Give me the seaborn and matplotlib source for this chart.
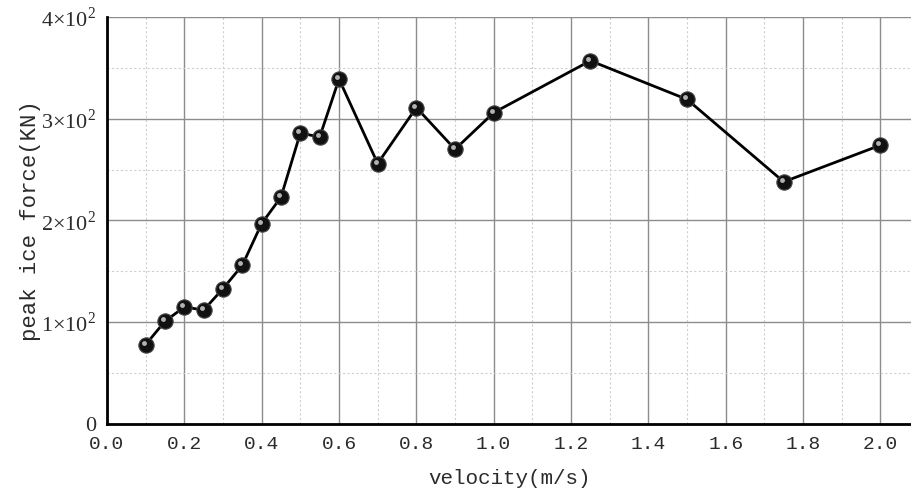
import numpy as np
import matplotlib
matplotlib.use('Agg')
import matplotlib.pyplot as plt
import matplotlib.transforms as mtrans
from matplotlib.ticker import MultipleLocator, FuncFormatter
import seaborn as sns

velocity = [0.1, 0.15, 0.2, 0.25, 0.3, 0.35, 0.4, 0.45, 0.5, 0.55, 0.6,
            0.7, 0.8, 0.9, 1.0, 1.25, 1.5, 1.75, 2.0]
peak_force = [78, 101, 115, 112, 133, 156, 197, 223, 286, 282, 339,
              256, 311, 270, 306, 357, 319, 238, 274]

sns.set_style('white')
plt.rcParams['font.family'] = ['Liberation Serif', 'DejaVu Serif']
plt.rcParams['mathtext.fontset'] = 'custom'
plt.rcParams['mathtext.rm'] = 'Liberation Serif'
TXT = '#2b2b2b'
MONO = ['Liberation Mono', 'DejaVu Sans Mono']

fig = plt.figure(figsize=(9.12, 4.9), dpi=100)
ax = fig.add_axes([0.1173, 0.1347, 0.882, 0.8306])

ax.set_xlim(0, 2.08)
ax.set_ylim(0, 400)
ax.xaxis.set_major_locator(MultipleLocator(0.2))
ax.xaxis.set_minor_locator(MultipleLocator(0.1))
ax.yaxis.set_major_locator(MultipleLocator(100))
ax.yaxis.set_minor_locator(MultipleLocator(50))

ax.grid(which='major', color='#8c8c8c', linewidth=1.0, linestyle='-')
ax.grid(which='minor', color='#cfcfcf', linewidth=0.8, linestyle=(0, (2, 2)))
ax.set_axisbelow(True)

sns.lineplot(x=velocity, y=peak_force, ax=ax, color='black', linewidth=2,
             marker='o', markersize=11, markerfacecolor='#111111',
             markeredgecolor='#444444', markeredgewidth=0.8, zorder=3)
# small highlight so the markers look like little balls
shift = mtrans.offset_copy(ax.transData, fig=fig, x=-2.0, y=2.0, units='dots')
ax.plot(velocity, peak_force, linestyle='none', marker='o', markersize=3.5,
        markerfacecolor='#d0d0d0', markeredgewidth=0, alpha=0.85,
        transform=shift, zorder=4)

for s in ['top', 'right']:
    ax.spines[s].set_visible(False)
for s in ['left', 'bottom']:
    ax.spines[s].set_linewidth(2)
    ax.spines[s].set_color('black')

ax.tick_params(which='major', direction='in', length=9, width=1.5,
               colors='black', labelcolor=TXT)
ax.tick_params(which='minor', direction='in', length=5, width=1.2, colors='black')
ax.tick_params(axis='y', pad=8, labelsize=16)
ax.tick_params(axis='x', pad=9, labelsize=14)


def fmt_y(v, pos):
    if v == 0:
        return '0'
    return r'$%d{\times}10^{2}$' % int(round(v / 100))


ax.yaxis.set_major_formatter(FuncFormatter(fmt_y))
ax.xaxis.set_major_formatter(FuncFormatter(lambda v, p: f'{v:.1f}'))
for lab in ax.get_xticklabels():
    lab.set_family(MONO)

ax.set_xlabel('velocity(m/s)', fontsize=15, color=TXT, family=MONO, labelpad=11)
ax.set_ylabel('peak ice force(KN)', fontsize=16, color=TXT, family=MONO, labelpad=0)

fig.savefig('out.png', dpi=100)
